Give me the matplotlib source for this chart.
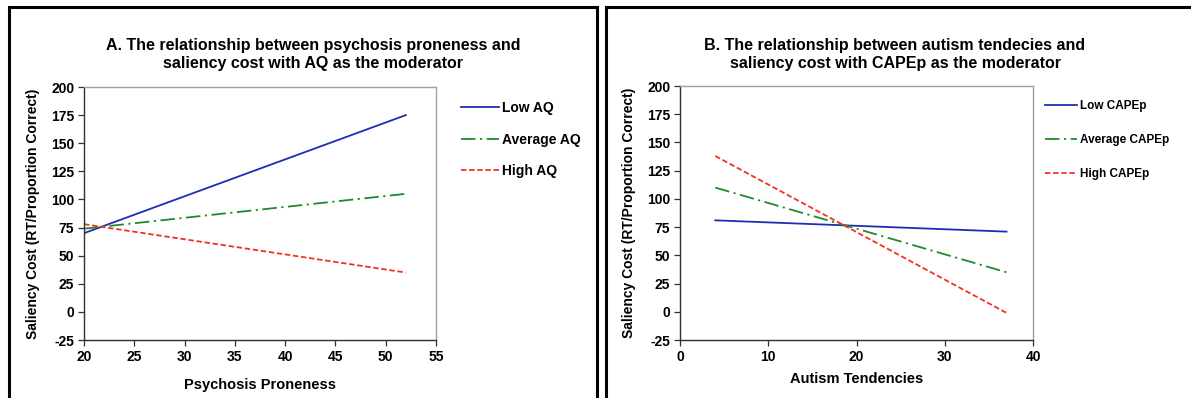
import matplotlib.pyplot as plt
from matplotlib.patches import Rectangle

# Simple-slope lines (endpoints of each moderator level)
psych_x = [20, 52]
low_aq = [70, 175]
avg_aq = [74, 105]
high_aq = [78, 35]

autism_x = [4, 37]
low_capep = [81, 71]
avg_capep = [110, 35]
high_capep = [138, -1]

y_ticks = [-25, 0, 25, 50, 75, 100, 125, 150, 175, 200]
psych_ticks = [20, 25, 30, 35, 40, 45, 50, 55]
autism_ticks = [0, 10, 20, 30, 40]

plt.rcParams["font.family"] = ["Liberation Sans", "DejaVu Sans"]
plt.rcParams["font.weight"] = "bold"
plt.rcParams["axes.unicode_minus"] = False

BLUE = "#1c2eb4"
GREEN = "#1f8a2a"
RED = "#f2321e"

W, H = 1191, 398
fig = plt.figure(figsize=(W / 100, H / 100), dpi=100)


def px_axes(left, top, right, bottom):
    return fig.add_axes([left / W, 1 - bottom / H, (right - left) / W, (bottom - top) / H])


def style_axes(ax, xticks, ylabel, xlabel, xpad):
    ax.set_ylim(-25, 200)
    ax.set_yticks(y_ticks)
    ax.set_xlim(xticks[0], xticks[-1])
    ax.set_xticks(xticks)
    for side in ["top", "right"]:
        ax.spines[side].set_color("#a0a0a0")
    for side in ["left", "bottom"]:
        ax.spines[side].set_color("#303030")
    for s in ax.spines.values():
        s.set_linewidth(1.0)
    ax.tick_params(direction="out", length=4, width=0.9, color="#303030",
                   labelsize=10, pad=3)
    for lab in ax.get_xticklabels() + ax.get_yticklabels():
        lab.set_fontweight("bold")
    ax.set_ylabel(ylabel, fontsize=10, fontweight="bold", labelpad=8)
    ax.set_xlabel(xlabel, fontsize=10.5, fontweight="bold", labelpad=xpad)


def draw_lines(ax, x, low, avg, high, names, anchor, size, spacing):
    ax.plot(x, low, color=BLUE, lw=1.3, label=names[0])
    ax.plot(x, avg, color=GREEN, lw=1.3, dashes=(8, 2.5, 1.2, 2.5), label=names[1])
    ax.plot(x, high, color=RED, lw=1.3, dashes=(3, 1.5), label=names[2])
    ax.legend(loc="upper left", bbox_to_anchor=anchor, bbox_transform=fig.transFigure,
              frameon=False, handlelength=2.7, handletextpad=0.25,
              labelspacing=spacing, borderpad=0, borderaxespad=0,
              prop={"weight": "bold", "size": size})


# Panel A
axA = px_axes(84, 87, 436, 340)
draw_lines(axA, psych_x, low_aq, avg_aq, high_aq,
           ["Low AQ", "Average AQ", "High AQ"], (461 / W, 1 - 101 / H), 10, 1.27)
style_axes(axA, psych_ticks, "Saliency Cost (RT/Proportion Correct)", "Psychosis Proneness", 10)
fig.text(313 / W, 1 - 54.5 / H,
         "A. The relationship between psychosis proneness and\nsaliency cost with AQ as the moderator",
         ha="center", va="center", fontsize=11.5, fontweight="bold", linespacing=1.3)

# Panel B
axB = px_axes(680, 86, 1033, 340)
draw_lines(axB, autism_x, low_capep, avg_capep, high_capep,
           ["Low CAPEp", "Average CAPEp", "High CAPEp"], (1045 / W, 1 - 100 / H), 8.5, 1.85)
style_axes(axB, autism_ticks, "Saliency Cost (RT/Proportion Correct)", "Autism Tendencies", 6)
fig.text(895 / W, 1 - 54.5 / H,
         "B. The relationship between autism tendecies and\nsaliency cost with CAPEp as the moderator",
         ha="center", va="center", fontsize=11.5, fontweight="bold", linespacing=1.3)

# Panel frames
fig.add_artist(Rectangle((8.5 / W, -0.05), (597 - 8.5) / W, 1 - 6.5 / H + 0.05,
                         transform=fig.transFigure, fill=False, ec="black", lw=2.2))
fig.add_artist(Rectangle((605.5 / W, -0.05), (W + 20 - 605.5) / W, 1 - 6.5 / H + 0.05,
                         transform=fig.transFigure, fill=False, ec="black", lw=2.2))

fig.savefig("out.png", dpi=100)
